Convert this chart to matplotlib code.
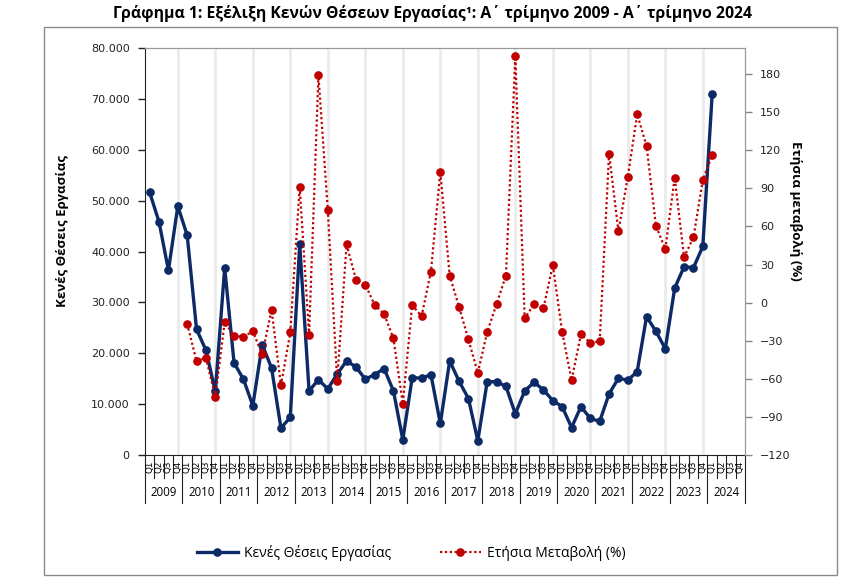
import numpy as np
import matplotlib
matplotlib.use("Agg")
import matplotlib.pyplot as plt
from matplotlib.ticker import FuncFormatter
from matplotlib.patches import Rectangle

plt.rcParams['font.family'] = ['Open Sans', 'DejaVu Sans']

years = list(range(2009, 2025))
quarters = ["Q1", "Q2", "Q3", "Q4"]

# Κενές θέσεις εργασίας, 2009 Q1 .. 2024 Q1
vacancies = [51600, 45800, 36300, 48900, 43200, 24700, 20600, 12500, 36800, 18100,
             14900, 9700, 21700, 17100, 5300, 7400, 41400, 12600, 14800, 13000,
             15900, 18500, 17300, 14900, 15800, 17000, 12600, 3000, 15200, 15100,
             15800, 6200, 18500, 14500, 11100, 2800, 14400, 14400, 13500, 8100,
             12600, 14300, 12800, 10700, 9500, 5400, 9500, 7200, 6600, 12000,
             15100, 14700, 16400, 27200, 24300, 20900, 32800, 37000, 36800, 41000,
             70900]

# Ετήσια μεταβολή (%), 2010 Q1 .. 2024 Q1
annual_change = [-16.6, -46.3, -43.4, -74.2, -15.3, -26.3, -26.8, -22.6, -40.8, -5.8,
                 -65.0, -23.4, 91.3, -25.5, 178.9, 72.9, -61.6, 45.8, 18.2, 14.2,
                 -1.8, -8.9, -28.2, -79.7, -1.8, -10.8, 24.5, 102.9, 21.3, -3.4,
                 -29.0, -55.5, -23.2, -1.1, 21.3, 193.9, -12.4, -1.1, -4.5, 29.7,
                 -23.2, -61.1, -25.0, -31.6, -30.5, 117.4, 56.1, 99.2, 148.2, 123.4,
                 60.5, 42.1, 98.4, 35.8, 51.3, 96.6, 116.1]

n_cat = len(years) * len(quarters)
x_vac = np.arange(len(vacancies))
x_chg = np.arange(4, 4 + len(annual_change))

blue = "#0b2a66"
red = "#c00000"

fig = plt.figure(figsize=(8.62, 5.82), dpi=100)
ax = fig.add_axes([145 / 862, 1 - 455 / 582, 600 / 862, 407 / 582])
ax2 = ax.twinx()

# light vertical lines at every Q4
for i in range(3, n_cat - 4, 4):
    ax.axvline(i, color="#ebebeb", lw=2, zorder=0)

ax.plot(x_vac, vacancies, color=blue, lw=2.4, marker="o", ms=5.2, zorder=3)
ax2.plot(x_chg, annual_change, color=red, lw=1.6, ls=(0, (1, 1.2)), marker="o",
         ms=5.2, zorder=3)

ax.set_xlim(-0.5, n_cat - 0.5)
ax.set_ylim(0, 80000)
ax.set_yticks(np.arange(0, 80001, 10000))
ax.yaxis.set_major_formatter(FuncFormatter(lambda v, p: f"{v:,.0f}".replace(",", ".")))
ax2.set_ylim(-120, 200.5)
ax2.set_yticks(np.arange(-120, 181, 30))

for a in (ax, ax2):
    a.tick_params(axis="y", labelsize=8, length=5, width=1)
    for lab in a.get_yticklabels():
        lab.set_family("DejaVu Sans")
ax.tick_params(axis="y", colors="#222222", pad=6)
ax2.tick_params(axis="y", colors="#888888", labelcolor="#222222", pad=6)

ax.spines["left"].set_color("#222222")
ax.spines["bottom"].set_color("#222222")
for a in (ax, ax2):
    a.spines["top"].set_color("#999999")
    a.spines["right"].set_color("#999999")
ax2.spines["left"].set_visible(False)
ax2.spines["bottom"].set_visible(False)

# category axis: quarters + years
ax.set_xticks([])
tr = ax.get_xaxis_transform()
h = 407.0
for i in range(n_cat):
    ax.text(i, -12 / h, quarters[i % 4], rotation=90, ha="center", va="center",
            fontsize=6.3, transform=tr, family="DejaVu Sans")
for b in range(n_cat + 1):
    length = 48 if b % 4 == 0 else 23
    ax.plot([b - 0.5, b - 0.5], [0, -length / h], color="#222222", lw=0.8,
            transform=tr, clip_on=False)
for k, yr in enumerate(years):
    ax.text(4 * k + 1.5, -38 / h, str(yr), ha="center", va="center", fontsize=8.3,
            transform=tr)

ax.set_ylabel("Κενές Θέσεις Εργασίας", fontsize=9.5, fontweight="bold")
ax.yaxis.set_label_coords(-76 / 600, 0.55)
ax2.set_ylabel("Ετήσια μεταβολή (%)", fontsize=9.5, fontweight="bold", rotation=-90)
ax2.yaxis.set_label_coords(1 + 57 / 600, 0.6)

fig.text(433 / 862, 1 - 14 / 582,
         "Γράφημα 1: Εξέλιξη Κενών Θέσεων Εργασίας¹: Α΄ τρίμηνο 2009 - Α΄ τρίμηνο 2024",
         ha="center", va="center", fontsize=11.3, fontweight="bold")

fig.patches.append(Rectangle((44 / 862, 7 / 582), 793 / 862, 548 / 582,
                             transform=fig.transFigure, fill=False,
                             edgecolor="#8a8a8a", lw=1))

h1, = ax.plot([], [], color=blue, lw=2.4, marker="o", ms=5.2)
h2, = ax.plot([], [], color=red, lw=1.6, ls=(0, (1, 1.2)), marker="o", ms=5.2)
fig.legend([h1, h2], ["Κενές Θέσεις Εργασίας", "Ετήσια Μεταβολή (%)"],
           loc="center", bbox_to_anchor=(411 / 862, 1 - 553 / 582), ncol=2,
           frameon=False, fontsize=10, handlelength=3, columnspacing=3.5,
           handletextpad=0.4)

fig.savefig("out.png", dpi=100)
